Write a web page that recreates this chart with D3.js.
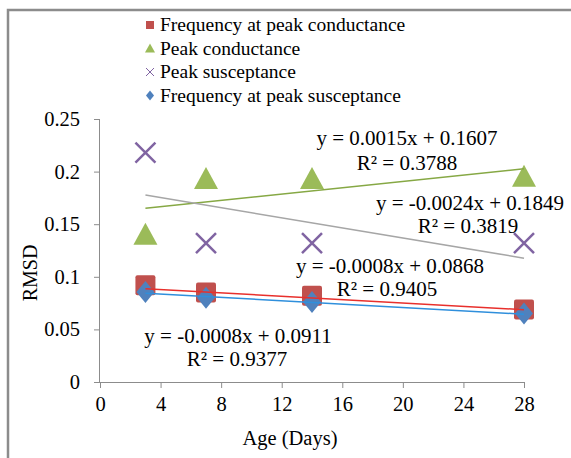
<!DOCTYPE html>
<html>
<head>
<meta charset="utf-8">
<script src="https://cdn.jsdelivr.net/npm/d3@7"></script>
<style>
  body { margin: 0; background: #fff; }
  svg text { font-family: "Liberation Serif", "Times New Roman", serif !important; fill: #000; }
</style>
</head>
<body>
<div class="chart"></div>
<script>
// values
var days = [3, 7, 14, 28];
var freqPeakConductance = [0.092, 0.085, 0.082, 0.069];
var peakConductance = [0.14, 0.193, 0.193, 0.195];
var peakSusceptance = [0.218, 0.132, 0.132, 0.132];
var freqPeakSusceptance = [0.0855, 0.080, 0.076, 0.065];

var xTicks = [0, 4, 8, 12, 16, 20, 24, 28];
var yTicks = [0, 0.05, 0.1, 0.15, 0.2, 0.25];

// trendline equations as printed on the chart [slope, intercept]
var trendFreqConductance = [-0.0008, 0.0911];
var trendConductance = [0.0015, 0.1607];
var trendSusceptance = [-0.0024, 0.1849];
var trendFreqSusceptance = [-0.0008, 0.0868];

var width = 571, height = 458;
var svg = d3.select(".chart").append("svg")
  .attr("width", width)
  .attr("height", height)
  .attr("font-family", "Liberation Serif");

// outer chart border (right and bottom edges run off the picture)
svg.append("path")
  .attr("d", "M8," + (height + 5) + "V10H" + (width + 5))
  .attr("fill", "none")
  .attr("stroke", "#8c8c8c")
  .attr("stroke-width", 2.5);

var x = d3.scaleLinear().domain([0, 28]).range([100, 524]);
var y = d3.scaleLinear().domain([0, 0.25]).range([382, 119]);

var axisColor = "#8c8c8c";

var xAxis = svg.append("g")
  .attr("transform", "translate(0," + y(0) + ")")
  .call(d3.axisBottom(x).tickValues(xTicks).tickSize(6).tickPadding(8).tickFormat(d3.format("d")));
var yAxis = svg.append("g")
  .attr("transform", "translate(" + x(0) + ",0)")
  .call(d3.axisLeft(y).tickValues(yTicks).tickSize(6).tickPadding(14).tickFormat(function(d) { return d3.format("")(d); }));

[xAxis, yAxis].forEach(function(a) {
  a.attr("font-family", "Liberation Serif").attr("font-size", 20.5);
  a.select(".domain").attr("stroke", axisColor);
  a.selectAll(".tick line").attr("stroke", axisColor);
  a.selectAll(".tick text").attr("fill", "#000");
});
// drop the outer ticks d3 adds to the domain path
xAxis.select(".domain").attr("d", "M" + x(0) + ",0.5H" + x(28));
yAxis.select(".domain").attr("d", "M-0.5," + y(0) + "V" + y(0.25));

svg.append("text")
  .attr("x", 290).attr("y", 445)
  .attr("text-anchor", "middle")
  .attr("font-size", 20.5)
  .text("Age (Days)");

svg.append("text")
  .attr("transform", "translate(37,273) rotate(-90)")
  .attr("text-anchor", "middle")
  .attr("font-size", 20)
  .text("RMSD");

function zip(ys) {
  return days.map(function(d, i) { return [d, ys[i]]; });
}

var red = "#C0504D", green = "#9BBB59", purple = "#8064A2", blue = "#4F81BD";

// markers
svg.append("g").selectAll("rect")
  .data(zip(freqPeakConductance))
  .join("rect")
  .attr("x", function(d) { return x(d[0]) - 10; })
  .attr("y", function(d) { return y(d[1]) - 10; })
  .attr("width", 20).attr("height", 20)
  .attr("rx", 2)
  .attr("fill", red);

svg.append("g").selectAll("path")
  .data(zip(peakConductance))
  .join("path")
  .attr("transform", function(d) { return "translate(" + x(d[0]) + "," + y(d[1]) + ")"; })
  .attr("d", "M0,-12L12,10L-12,10Z")
  .attr("fill", green);

svg.append("g").selectAll("path")
  .data(zip(peakSusceptance))
  .join("path")
  .attr("transform", function(d) { return "translate(" + x(d[0]) + "," + y(d[1]) + ")"; })
  .attr("d", "M-10,-10L10,10M10,-10L-10,10")
  .attr("stroke", purple)
  .attr("stroke-width", 2.5)
  .attr("fill", "none");

svg.append("g").selectAll("path")
  .data(zip(freqPeakSusceptance))
  .join("path")
  .attr("transform", function(d) { return "translate(" + x(d[0]) + "," + y(d[1]) + ")"; })
  .attr("d", "M0,-11L9,0L0,11L-9,0Z")
  .attr("fill", blue);

// trendlines
var trends = [
  { c: trendConductance, color: "#86A844" },
  { c: trendSusceptance, color: "#a6a6a6" },
  { c: trendFreqConductance, color: "#e8302c" },
  { c: trendFreqSusceptance, color: "#2f8fdc" }
];
var x0 = d3.min(days), x1 = d3.max(days);
svg.append("g").selectAll("line")
  .data(trends)
  .join("line")
  .attr("x1", x(x0)).attr("x2", x(x1))
  .attr("y1", function(d) { return y(d.c[0] * x0 + d.c[1]); })
  .attr("y2", function(d) { return y(d.c[0] * x1 + d.c[1]); })
  .attr("stroke", function(d) { return d.color; })
  .attr("stroke-width", 1.5);

// equation labels
var labels = [
  { t: "y = 0.0015x + 0.1607", x: 407, y: 145 },
  { t: "R² = 0.3788", x: 407, y: 170 },
  { t: "y = -0.0024x + 0.1849", x: 470, y: 210 },
  { t: "R² = 0.3819", x: 468, y: 233 },
  { t: "y = -0.0008x + 0.0868", x: 390, y: 273 },
  { t: "R² = 0.9405", x: 387, y: 296 },
  { t: "y = -0.0008x + 0.0911", x: 238, y: 343 },
  { t: "R² = 0.9377", x: 237, y: 366 }
];
svg.append("g").selectAll("text")
  .data(labels)
  .join("text")
  .attr("x", function(d) { return d.x; })
  .attr("y", function(d) { return d.y; })
  .attr("text-anchor", "middle")
  .attr("font-size", 21)
  .text(function(d) { return d.t; });

// legend
var legendNames = ["Frequency at peak conductance", "Peak conductance", "Peak susceptance", "Frequency at peak susceptance"];
var legend = svg.append("g").selectAll("g")
  .data(legendNames)
  .join("g")
  .attr("transform", function(d, i) { return "translate(150," + (25 + i * 23.5) + ")"; });

legend.append("path")
  .attr("d", function(d, i) {
    if (i === 0) return "M-4,-4H4V4H-4Z";
    if (i === 1) return "M0,-5L5,4H-5Z";
    if (i === 2) return "M-4,-4L4,4M4,-4L-4,4";
    return "M0,-5L4,0L0,5L-4,0Z";
  })
  .attr("fill", function(d, i) { return i === 2 ? "none" : [red, green, purple, blue][i]; })
  .attr("stroke", function(d, i) { return i === 2 ? purple : "none"; })
  .attr("stroke-width", 1);

legend.append("text")
  .attr("x", 10)
  .attr("y", 6)
  .attr("font-size", 19.5)
  .text(function(d) { return d; });
</script>
</body>
</html>
